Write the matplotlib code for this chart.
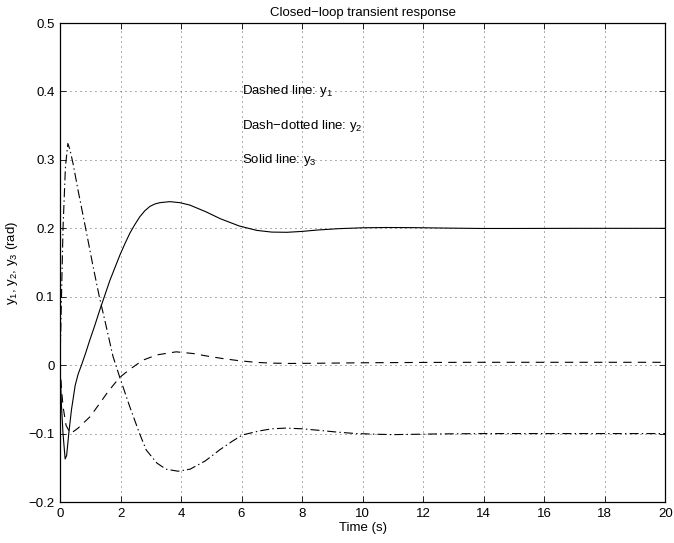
#! /usr/bin/env python3
"""
Closed-loop transient response, three outputs
"""

import matplotlib
matplotlib.use('Agg')
import matplotlib.pyplot as plt

# values
t_y1 = [0, 0.05, 0.1, 0.2, 0.35, 0.6, 1.0, 1.31, 1.6, 1.97, 2.31, 2.74,
        3.2, 3.84, 4.4, 4.9, 5.4, 5.92, 6.5, 7.0, 7.57, 8.5, 10, 12, 14,
        16, 20]
y1 = [0, -0.035, -0.06, -0.088, -0.1, -0.092, -0.075, -0.056, -0.038,
      -0.018, -0.006, 0.0073, 0.015, 0.0195, 0.017, 0.013, 0.0095, 0.0065,
      0.004, 0.003, 0.0025, 0.0028, 0.0035, 0.004, 0.0042, 0.0042, 0.0042]

t_y2 = [0, 0.05, 0.1, 0.18, 0.26, 0.33, 0.43, 0.6, 0.87, 1.09, 1.3, 1.5,
        1.75, 1.97, 2.3, 2.63, 2.85, 3.2, 3.5, 3.9, 4.3, 4.8, 5.27, 5.7,
        6.03, 6.6, 7.0, 7.46, 8.0, 8.5, 9.2, 9.8, 10.5, 11.0, 11.8, 12.5,
        14, 16, 20]
y2 = [0, 0.1, 0.2, 0.29, 0.324, 0.315, 0.295, 0.255, 0.195, 0.145, 0.1,
      0.062, 0.013, -0.017, -0.06, -0.1, -0.124, -0.143, -0.152, -0.155,
      -0.152, -0.14, -0.124, -0.111, -0.102, -0.096, -0.093, -0.092, -0.093,
      -0.095, -0.098, -0.1, -0.101, -0.1015, -0.101, -0.1005, -0.1, -0.1,
      -0.1]

t_y3 = [0, 0.05, 0.1, 0.17, 0.22, 0.29, 0.38, 0.5, 0.6, 0.71, 0.85, 0.98,
        1.15, 1.31, 1.48, 1.65, 1.82, 1.98, 2.15, 2.31, 2.48, 2.64, 2.8,
        2.97, 3.13, 3.3, 3.63, 3.96, 4.29, 4.83, 5.3, 5.92, 6.5, 7.0, 7.5,
        8.0, 8.5, 9.2, 10.0, 10.8, 11.7, 12.5, 13.9, 15, 17, 20]
y3 = [0, -0.06, -0.1, -0.137, -0.132, -0.1, -0.065, -0.03, -0.013, 0.0,
      0.018, 0.036, 0.058, 0.08, 0.102, 0.124, 0.143, 0.161, 0.178, 0.193,
      0.206, 0.217, 0.2255, 0.232, 0.2355, 0.2375, 0.239, 0.2375, 0.234,
      0.224, 0.214, 0.2035, 0.197, 0.1945, 0.1942, 0.1955, 0.1975, 0.1995,
      0.2008, 0.2012, 0.201, 0.2005, 0.1998, 0.1998, 0.2, 0.2]

x_ticks = [0, 2, 4, 6, 8, 10, 12, 14, 16, 18, 20]
y_ticks = [-0.2, -0.1, 0, 0.1, 0.2, 0.3, 0.4, 0.5]
y_tick_labels = ['\u22120.2', '\u22120.1', '0', '0.1', '0.2', '0.3', '0.4',
                 '0.5']
notes = ['Dashed line: $y_1$', 'Dash\u2212dotted line: $y_2$',
         'Solid line: $y_3$']
note_y = [0.4, 0.35, 0.3]


def main():
    plt.rcParams['font.family'] = ['Liberation Sans', 'DejaVu Sans']
    plt.rcParams['font.size'] = 9.5
    plt.rcParams['mathtext.fontset'] = 'custom'
    plt.rcParams['mathtext.rm'] = 'Liberation Sans'
    plt.rcParams['mathtext.it'] = 'Liberation Sans'
    plt.rcParams['mathtext.default'] = 'regular'
    plt.rcParams['lines.scale_dashes'] = False

    fig = plt.figure(figsize=(6.74, 5.43), dpi=100)
    ax = fig.add_axes([0.089, 0.0755, 0.898, 0.882])

    ax.plot(t_y1, y1, color='k', lw=0.8, ls=(0, (6, 4.5)))
    ax.plot(t_y2, y2, color='k', lw=0.8, ls=(0, (6.5, 2.3, 1, 2.3)))
    ax.plot(t_y3, y3, color='k', lw=0.8, ls='-')

    for s, yy in zip(notes, note_y):
        ax.text(6, yy, s, va='center', ha='left')

    ax.set_xlim(0, 20)
    ax.set_ylim(-0.2, 0.5)
    ax.set_xticks(x_ticks)
    ax.set_xticklabels([str(v) for v in x_ticks])
    ax.set_yticks(y_ticks)
    ax.set_yticklabels(y_tick_labels)
    ax.tick_params(direction='in', top=True, right=True, length=4,
                   width=0.6, pad=4)
    ax.grid(True, color='0.25', ls=(0, (0.7, 2.9)), lw=0.6)
    for sp in ax.spines.values():
        sp.set_linewidth(0.9)

    ax.set_title('Closed\u2212loop transient response', fontsize=9.5, pad=5)
    ax.set_xlabel('Time (s)', labelpad=2)
    ax.set_ylabel('$y_1$, $y_2$, $y_3$ (rad)', labelpad=6)

    fig.savefig('out.png', dpi=100)


if __name__ == '__main__':
    main()
